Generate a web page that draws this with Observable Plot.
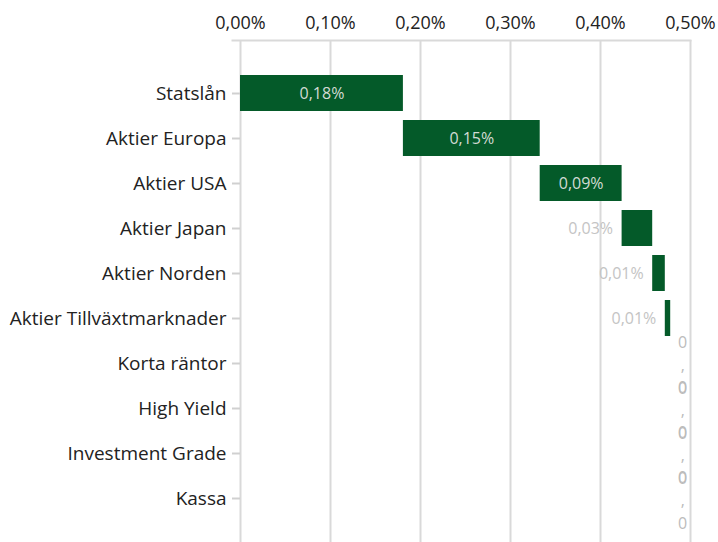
<!DOCTYPE html>
<html><head><meta charset="utf-8">
<script src="https://cdn.jsdelivr.net/npm/d3@7"></script>
<script src="https://cdn.jsdelivr.net/npm/@observablehq/plot@0.6"></script>
<style>html,body{margin:0;padding:0;background:#fff;} #chart svg{display:block;}</style>
</head><body><div id="chart"></div>
<script>
const categories = ["Statslån","Aktier Europa","Aktier USA","Aktier Japan","Aktier Norden","Aktier Tillväxtmarknader","Korta räntor","High Yield","Investment Grade","Kassa"];
const values = [0.181, 0.152, 0.091, 0.034, 0.014, 0.006, 0, 0, 0, 0];
const xTicks = [0, 0.1, 0.2, 0.3, 0.4, 0.5];

const ends = d3.cumsum(values);
const rows = categories.map((c, i) => ({category: c, value: values[i], x1: ends[i] - values[i], x2: ends[i]}));
const fmt = v => v.toFixed(2).replace(".", ",") + "%";
const inside = rows.filter(d => d.value >= 0.05);
const outside = rows.filter(d => d.value > 0 && d.value < 0.05);
const zero = rows.filter(d => d.value === 0);

const chart = Plot.plot({
  width: 718, height: 542,
  marginTop: 40, marginRight: 28, marginBottom: 0, marginLeft: 240,
  style: {fontFamily: "'Open Sans', sans-serif", background: "#fff"},
  x: {domain: [0, 0.5]},
  y: {domain: categories, range: [47, 545], paddingInner: 0.2, paddingOuter: 0.6},
  marks: [
    Plot.ruleX(xTicks, {stroke: "#d9d9d9", strokeWidth: 2}),
    Plot.frame({anchor: "top", stroke: "#d9d9d9", strokeWidth: 2, insetLeft: -8}),
    Plot.axisX({anchor: "top", ticks: xTicks, tickSize: 0, tickPadding: 12, tickFormat: fmt, fontSize: 18, fill: "#222", label: null}),
    Plot.axisY({tickSize: 8, tickPadding: 6, stroke: "#d0d0d0", strokeWidth: 2, fontSize: 19, fill: "#222", label: null}),
    Plot.barX(rows, {x1: "x1", x2: "x2", y: "category", fill: "#045a29"}),
    Plot.text(inside, {x: d => (d.x1 + d.x2) / 2, y: "category", text: d => fmt(d.value), fill: "#d2dbd4", fontSize: 16}),
    Plot.text(outside, {x: "x1", y: "category", text: d => fmt(d.value), textAnchor: "end", dx: -9, fill: "#c4c4c4", fontSize: 16}),
    Plot.text(zero, {x: "x2", y: "category", text: d => "0\n,\n0", dx: 12, fill: "#bcbcbc", fontSize: 16, lineHeight: 1.44})
  ]
});
document.getElementById("chart").append(chart);
</script></body></html>
